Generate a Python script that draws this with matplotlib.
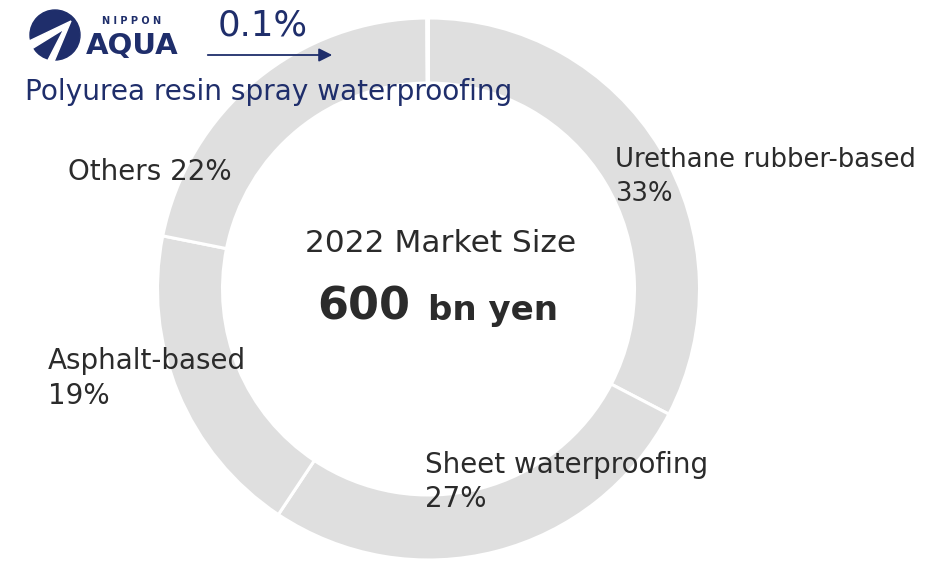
import matplotlib.pyplot as plt
from matplotlib.patches import Circle, Polygon

# market share of waterproofing methods, 2022 (%)
segments = ["Urethane rubber-based", "Sheet waterproofing", "Asphalt-based",
            "Others", "Polyurea resin spray waterproofing"]
shares = [33, 27, 19, 22, 0.1]
market_size = "600"

GRAY = "#dfdfdf"
TEXT = "#2b2b2b"
NAVY = "#1f2e6b"

W, H = 942, 562
fig = plt.figure(figsize=(W / 100, H / 100), dpi=100)
ax = fig.add_axes([0, 0, 1, 1])
ax.set_xlim(0, W)
ax.set_ylim(0, H)
ax.set_aspect("equal")
ax.axis("off")

# donut, clockwise from the top
cx, cy, r = 428.5, H - 289, 271
ax.pie(shares, center=(cx, cy), radius=r, startangle=90, counterclock=False,
       colors=[GRAY] * len(shares),
       wedgeprops=dict(width=65, edgecolor="white", linewidth=2.2))
ax.set_xlim(0, W)
ax.set_ylim(0, H)

def label(x, y, s, **kw):
    kw.setdefault("color", TEXT)
    kw.setdefault("fontsize", 20)
    ax.text(x, H - y, s, ha="left", va="baseline", **kw)

label(615, 167, segments[0], fontsize=18.6)
label(615, 201, f"{shares[0]}%", fontsize=18.6)
label(425, 473, segments[1])
label(425, 507, f"{shares[1]}%")
label(48, 369, segments[2])
label(48, 404, f"{shares[2]}%")
label(68, 180, f"{segments[3]} {shares[3]}%")

# centre text
ax.text(441, H - 252, "2022 Market Size", ha="center", va="baseline",
        color=TEXT, fontsize=22.5)
ax.text(410, H - 320, market_size, ha="right", va="baseline", color=TEXT,
        fontsize=32, fontweight="bold")
ax.text(428, H - 320, "bn yen", ha="left", va="baseline", color=TEXT,
        fontsize=24.5, fontweight="bold")

# polyurea callout
label(25, 100, segments[4], color=NAVY, fontsize=20.2)
label(218, 36, f"{shares[4]}%", color=NAVY, fontsize=25.5)
ax.annotate("", xy=(335, H - 55), xytext=(205, H - 55),
            arrowprops=dict(arrowstyle="-|>", color=NAVY, lw=1.3,
                            mutation_scale=20))

# logo mark: navy disc with a white paper-plane cut-out
ax.add_patch(Circle((55, H - 35), 25, color=NAVY))
plane = [(71, 21), (27, 42), (30, 50), (64, 29), (46, 64), (53, 64)]
ax.add_patch(Polygon([(x, H - y) for x, y in plane], closed=True,
                     color="white"))
ax.text(132, H - 24, "N I P P O N", ha="center", va="baseline", color=NAVY,
        fontsize=7, fontweight="bold")
ax.text(132, H - 54, "AQUA", ha="center", va="baseline", color=NAVY,
        fontsize=21, fontweight="heavy")

fig.savefig("out.png", dpi=100)
